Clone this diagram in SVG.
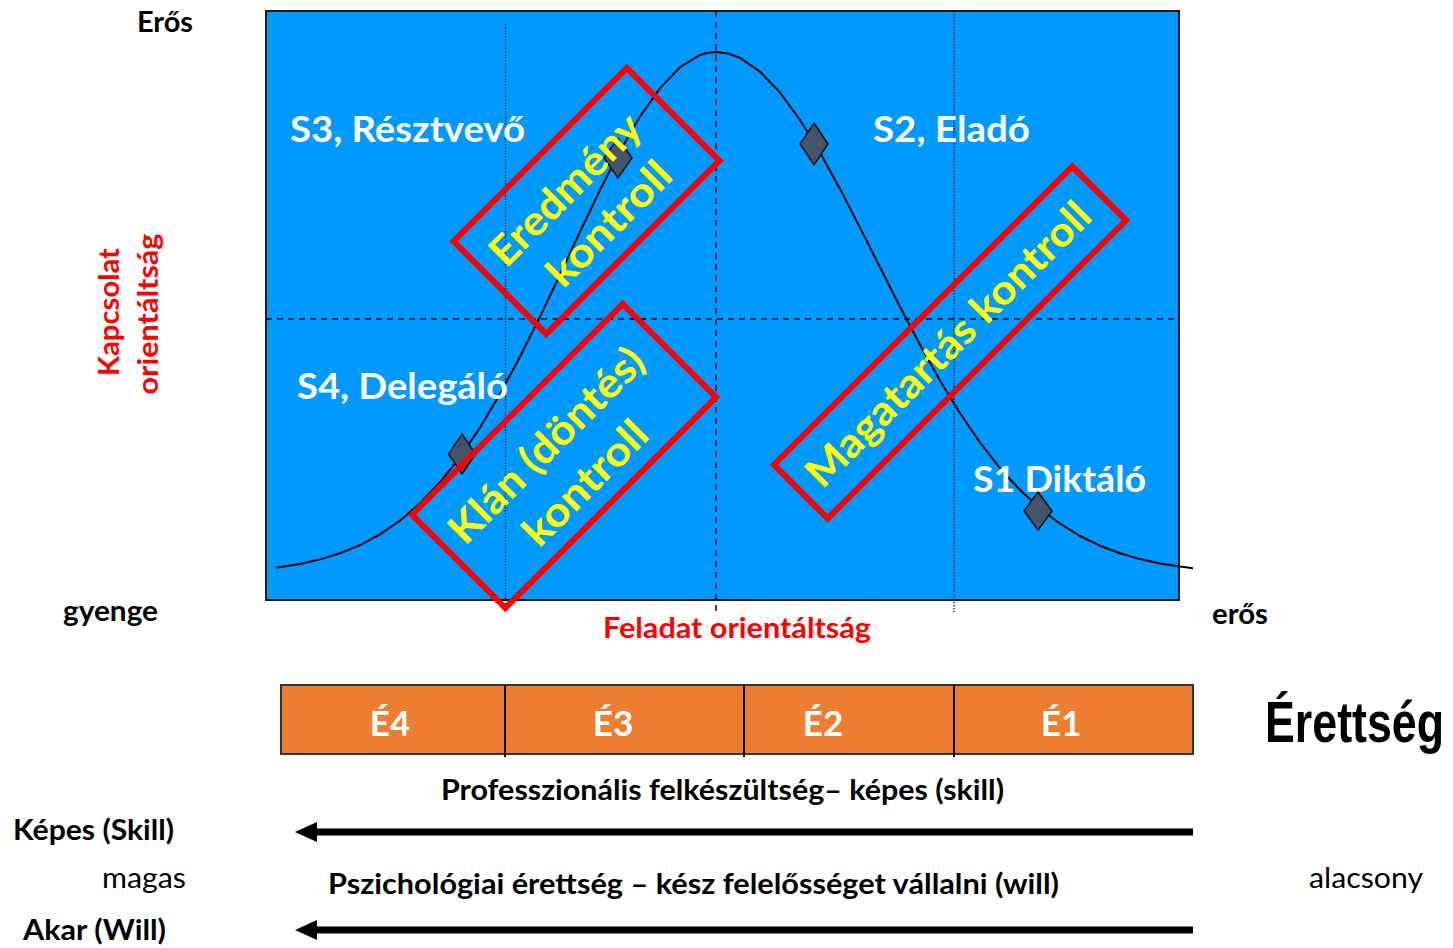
<svg xmlns="http://www.w3.org/2000/svg" width="1453" height="948" viewBox="0 0 1453 948">
  <defs>
    <style>
      .lbl { font-family: "Lato", "Open Sans", sans-serif; font-weight: 700; }
      .reg { font-family: "Lato", "Open Sans", sans-serif; font-weight: 400; }
      .white { fill: #FFFFFF; font-size: 37px; }
      .axis { fill: #000000; font-size: 28.5px; }
      .red { fill: #FF0000; font-size: 28.5px; }
      .yellow { fill: #FFFF00; font-size: 41px; }
      .ctrl { fill: none; stroke: #FF0000; stroke-width: 6; }
      .diamond { fill: #44546A; stroke: #111111; stroke-width: 1.5; }
      .dash { stroke: #000000; stroke-width: 1.5; stroke-dasharray: 6 5; fill: none; }
      .dot { stroke: #000000; stroke-width: 1.2; stroke-dasharray: 1.5 1.5; fill: none; }
      .cell { fill: #ED7D31; }
      .cellText { fill: #FFFFFF; font-size: 35px; }
      .arrow { stroke: #000000; stroke-width: 7; fill: none; marker-end: url(#head); }
    </style>
    <marker id="head" viewBox="0 0 22 20" markerWidth="22" markerHeight="20" refX="2" refY="10" orient="auto" markerUnits="userSpaceOnUse">
      <path d="M0,0 L22,10 L0,20 Z" fill="#000000"/>
    </marker>
  </defs>

  <rect width="1453" height="948" fill="#FFFFFF"/>

  <!-- leadership style chart -->
  <g id="chart">
    <rect x="266" y="11" width="913" height="589" fill="#0099FF" stroke="#1A1A1A" stroke-width="2"/>
    <line class="dash" x1="266" y1="319" x2="1179" y2="319"/>
    <line class="dash" x1="716" y1="11" x2="716" y2="612"/>
    <line class="dot" x1="505.5" y1="24" x2="505.5" y2="608"/>
    <line class="dot" x1="954" y1="11" x2="954" y2="612"/>
    <path id="curve" fill="none" stroke="#000000" stroke-width="2" stroke-linejoin="round"
      d="M276,567.7 L300,564 L320,559.4 L340,553.3 L360,545.1 L380,534.3 L400,520.6 L420,503.4 L440,482.3 L460,457.1 L480,427.6 L500,394.1 L520,356.8 L540,316.6 L560,274.5 L580,231.8 L600,190 L620,151 L640,116.5 L660,88.1 L680,67.2 L700,55 L708,52.8 L716,52 L728,53.5 L740,57.9 L760,71.6 L780,92.6 L800,120 L820,152.5 L840,188.9 L860,227.6 L880,267.3 L900,306.8 L920,344.8 L940,380.5 L960,413.2 L980,442.5 L1000,468.1 L1020,490.1 L1040,508.5 L1060,523.7 L1080,536 L1100,545.7 L1120,553.3 L1140,559.1 L1160,563.4 L1180,566.6 L1193,568.2"/>
  </g>

  <!-- quadrant styles -->
  <g id="s3"><text class="lbl white" x="290" y="142" textLength="235" lengthAdjust="spacingAndGlyphs">S3, Résztvevő</text></g>
  <g id="s2"><text class="lbl white" x="873" y="142" textLength="157" lengthAdjust="spacingAndGlyphs">S2, Eladó</text></g>
  <g id="s4"><text class="lbl white" x="297" y="399" textLength="211" lengthAdjust="spacingAndGlyphs">S4, Delegáló</text></g>
  <g id="s1"><text class="lbl white" x="973" y="492" textLength="173" lengthAdjust="spacingAndGlyphs">S1 Diktáló</text></g>

  <!-- points on the curve -->
  <g id="markers">
    <path class="diamond" d="M462,434 L475.5,454 L462,474 L448.5,454 Z"/>
    <path class="diamond" d="M618,138 L632,158 L618,178 L604,158 Z"/>
    <path class="diamond" d="M814,123 L828,144 L814,165 L800,144 Z"/>
    <path class="diamond" d="M1038,492 L1052,511 L1038,530 L1024,511 Z"/>
  </g>

  <!-- control types -->
  <g id="eredmeny" transform="translate(586.5,201) rotate(-45)">
    <rect class="ctrl" x="-122.5" y="-65.5" width="245" height="131"/>
    <text class="lbl yellow" x="-7" y="-9" text-anchor="middle" textLength="196" lengthAdjust="spacingAndGlyphs">Eredmény</text>
    <text class="lbl yellow" x="0" y="46" text-anchor="middle" textLength="158" lengthAdjust="spacingAndGlyphs">kontroll</text>
  </g>
  <g id="klan" transform="translate(564,456) rotate(-45)">
    <rect class="ctrl" x="-149" y="-66" width="298" height="132"/>
    <text class="lbl yellow" x="-5" y="-6" text-anchor="middle" textLength="258" lengthAdjust="spacingAndGlyphs">Klán (döntés)</text>
    <text class="lbl yellow" x="-4" y="48" text-anchor="middle" textLength="158" lengthAdjust="spacingAndGlyphs">kontroll</text>
  </g>
  <g id="magatartas" transform="translate(950,342.5) rotate(-45)">
    <rect class="ctrl" x="-211" y="-38" width="422" height="76"/>
    <text class="lbl yellow" x="-2.5" y="14" text-anchor="middle" textLength="384" lengthAdjust="spacingAndGlyphs">Magatartás kontroll</text>
  </g>

  <!-- axis labels -->
  <g id="axis-labels">
    <text class="lbl axis" x="137" y="32" textLength="56" lengthAdjust="spacingAndGlyphs">Erős</text>
    <text class="lbl axis" x="63" y="621" textLength="95" lengthAdjust="spacingAndGlyphs">gyenge</text>
    <text class="lbl axis" x="1212" y="624" textLength="56" lengthAdjust="spacingAndGlyphs">erős</text>
    <text class="lbl red" x="603" y="638" textLength="268" lengthAdjust="spacingAndGlyphs">Feladat orientáltság</text>
    <text class="lbl red" transform="translate(119,312) rotate(-90)" text-anchor="middle" textLength="128" lengthAdjust="spacingAndGlyphs">Kapcsolat</text>
    <text class="lbl red" transform="translate(158,314) rotate(-90)" text-anchor="middle" textLength="161" lengthAdjust="spacingAndGlyphs">orientáltság</text>
  </g>

  <!-- maturity scale -->
  <g id="maturity">
    <rect class="cell" x="281" y="685" width="912" height="69" stroke="#333333" stroke-width="2"/>
    <line x1="505" y1="685" x2="505" y2="757" stroke="#000000" stroke-width="2"/>
    <line x1="744" y1="685" x2="744" y2="757" stroke="#000000" stroke-width="2"/>
    <line x1="954" y1="685" x2="954" y2="757" stroke="#000000" stroke-width="2"/>
    <text class="lbl cellText" x="390" y="736" text-anchor="middle">É4</text>
    <text class="lbl cellText" x="613" y="736" text-anchor="middle">É3</text>
    <text class="lbl cellText" x="823" y="736" text-anchor="middle">É2</text>
    <text class="lbl cellText" x="1061" y="736" text-anchor="middle">É1</text>
    <text transform="translate(1265,742) scale(0.785,1)" font-family="'Liberation Sans', Arial, sans-serif" font-weight="700" font-size="57" fill="#000000">Érettség</text>
  </g>

  <!-- skill / will scale -->
  <g id="scale-labels">
    <text class="lbl axis" x="441" y="800" textLength="563" lengthAdjust="spacingAndGlyphs">Professzionális felkészültség– képes (skill)</text>
    <text class="lbl axis" x="13" y="840" textLength="161" lengthAdjust="spacingAndGlyphs">Képes (Skill)</text>
    <text class="reg axis" x="102" y="888" textLength="84" lengthAdjust="spacingAndGlyphs">magas</text>
    <text class="lbl axis" x="328" y="894" textLength="731" lengthAdjust="spacingAndGlyphs">Pszichológiai érettség – kész felelősséget vállalni (will)</text>
    <text class="reg axis" x="1309" y="888" textLength="114" lengthAdjust="spacingAndGlyphs">alacsony</text>
    <text class="lbl axis" x="23" y="940" textLength="143" lengthAdjust="spacingAndGlyphs">Akar (Will)</text>
  </g>

  <g id="connectors">
    <line class="arrow" x1="1193" y1="832" x2="315" y2="832"/>
    <line class="arrow" x1="1193" y1="930" x2="315" y2="930"/>
  </g>
</svg>
